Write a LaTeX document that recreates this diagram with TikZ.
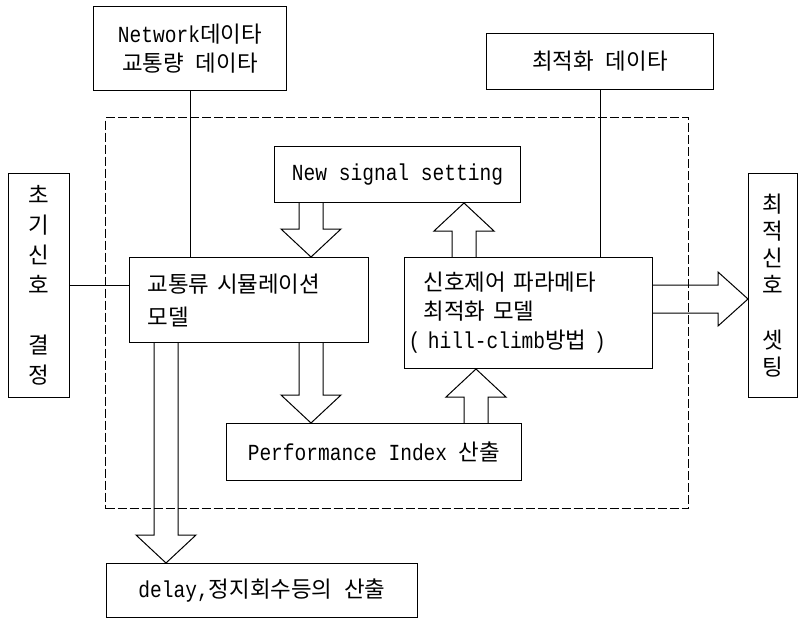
\documentclass[tikz,border=0pt]{standalone}
\usepackage{fontspec}
\setmainfont{Liberation Mono}[FakeStretch=0.85]
\newfontfamily\kr{Noto Sans CJK KR}[Scale=0.975]
\usetikzlibrary{calc}

% hollow block arrow, vertical: x position, start node anchor, tip node anchor
\newcommand\fatv[3]{%
  \draw[fat] let \p1=(#1,0), \p2=(#2), \p3=(#3), \n1={sign(\y2-\y3)} in
    (\x1-12pt,\y2) -- (\x1-12pt,\y3+\n1*28pt) -- (\x1-30pt,\y3+\n1*28pt)
    -- (\x1,\y3) -- (\x1+30pt,\y3+\n1*28pt) -- (\x1+12pt,\y3+\n1*28pt)
    -- (\x1+12pt,\y2);}
% hollow block arrow, horizontal: y position, start node anchor, tip node anchor
\newcommand\fath[3]{%
  \draw[fat] let \p1=(0,#1), \p2=(#2), \p3=(#3), \n1={sign(\x2-\x3)} in
    (\x2,\y1+14pt) -- (\x3+\n1*30pt,\y1+14pt) -- (\x3+\n1*30pt,\y1+27pt)
    -- (\x3,\y1) -- (\x3+\n1*30pt,\y1-27pt) -- (\x3+\n1*30pt,\y1-14pt)
    -- (\x2,\y1-14pt);}

\begin{document}
\begin{tikzpicture}[x=1pt,y=-1pt,line width=1pt,
  box/.style={draw, anchor=north west, inner sep=0pt, align=center,
    font=\fontsize{23}{29}\selectfont},
  vbox/.style={box, font=\fontsize{23}{#1}\selectfont},
  fat/.style={draw, line join=miter},
  link/.style={draw},
  frame/.style={draw, dash pattern=on 9pt off 3pt, anchor=north west, inner sep=0pt}]
\useasboundingbox (0,0) rectangle (800,619);

% enclosing simulation/optimisation loop
\node[frame, minimum width=583, minimum height=391] (loop) at (105,117) {};

% input data boxes
\node[box, minimum width=193, minimum height=84] (net) at (93,6)
  {Network{\kr 데이타}\\{\kr 교통량} {\kr 데이타}};
\node[box, minimum width=227, minimum height=56] (opt) at (486,33)
  {{\kr 최적화} {\kr 데이타}};

% vertical side boxes
\node[vbox=30, minimum width=61, minimum height=224] (init) at (8,173)
  {\kr 초\\\kr 기\\\kr 신\\\kr 호\\[30pt]\kr 결\\\kr 정};
\node[vbox=27, minimum width=49, minimum height=224] (final) at (748,173)
  {\kr 최\\\kr 적\\\kr 신\\\kr 호\\[28pt]\kr 셋\\\kr 팅};

% model boxes
\node[box, minimum width=246, minimum height=56] (new) at (274,146)
  {New signal setting};
\node[box, minimum width=239, minimum height=85, align=left,
  text width=203, inner xsep=18pt, font=\fontsize{23}{33}\selectfont] (sim) at (129,257)
  {{\kr 교통류} {\kr 시뮬레이션}\\{\kr 모델}};
\node[box, minimum width=248, minimum height=111, align=left,
  text width=240, inner xsep=4pt] (hill) at (404,257)
  {\hspace*{15pt}{\kr 신호제어} {\kr 파라메타}\\
   \hspace*{15pt}{\kr 최적화} {\kr 모델}\\
   ( hill-climb{\kr 방법} )};
\node[box, minimum width=295, minimum height=57] (pi) at (226,423)
  {Performance Index {\kr 산출}};
\node[box, minimum width=311, minimum height=54] (delay) at (106,563)
  {delay,{\kr 정지회수등의} {\kr 산출}};

% data links
\draw[link] (net.south) -- (net.south |- sim.north);
\draw[link] (opt.south) -- (opt.south |- hill.north);
\draw[link] (init.east) -- (init.east -| sim.west);

% flow arrows
\fatv{311}{new.south}{sim.north}
\fatv{311}{sim.south}{pi.north}
\fatv{476}{pi.north}{hill.south}
\fatv{464}{hill.north}{new.south}
\fatv{166}{sim.south}{delay.north}
\fath{299}{hill.east}{final.west}
\end{tikzpicture}
\end{document}
